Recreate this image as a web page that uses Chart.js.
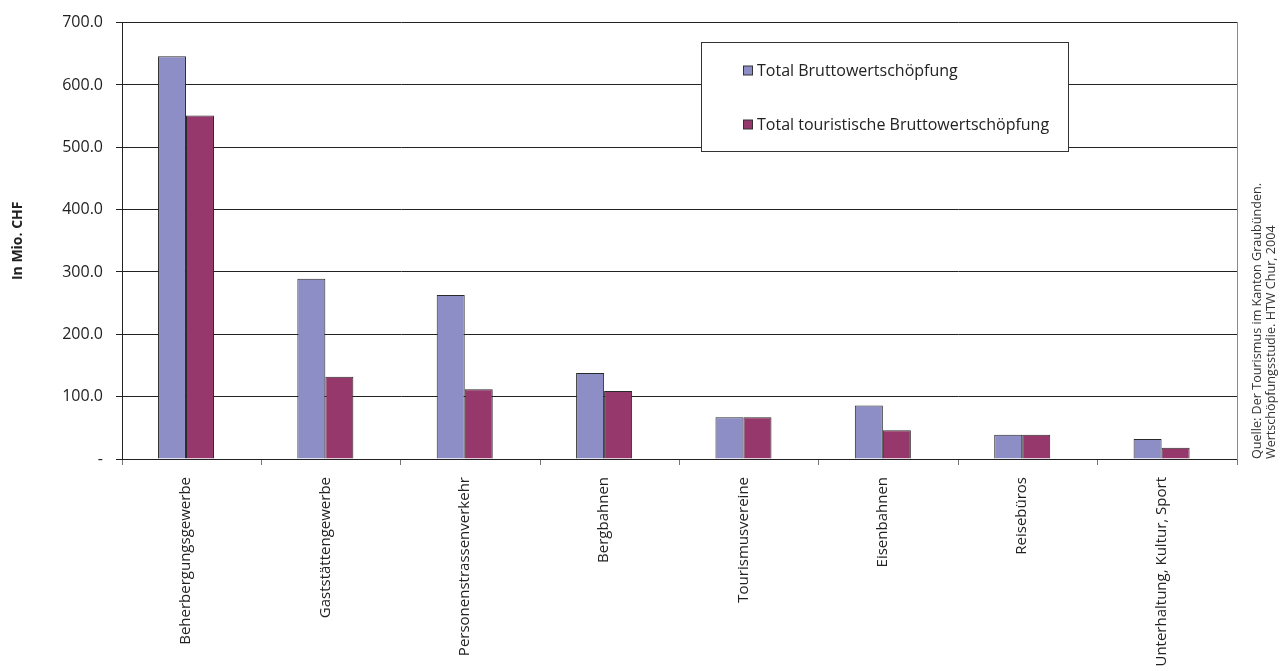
<!DOCTYPE html>
<html>
<head>
<meta charset="utf-8">
<title>Bruttowertschöpfung nach Branchen</title>
<script src="https://cdn.jsdelivr.net/npm/chart.js@4.4.1/dist/chart.umd.min.js"></script>
<style>
  html, body { margin: 0; padding: 0; background: #ffffff; }
  #wrap { width: 1281px; height: 671px; position: relative; }
</style>
</head>
<body>
<div id="wrap"><canvas id="chart" width="1281" height="671"></canvas></div>
<script>
// Branchen (categories) and the two value series, in Mio. CHF
const categories = [
  'Beherbergungsgewerbe',
  'Gaststättengewerbe',
  'Personenstrassenverkehr',
  'Bergbahnen',
  'Tourismusvereine',
  'Eisenbahnen',
  'Reisebüros',
  'Unterhaltung, Kultur, Sport'
];
const totalBWS     = [646, 289, 263, 138, 67, 86, 39, 32];
const touristBWS   = [551, 132, 112, 109, 67, 46, 39, 18];
const seriesNames  = ['Total Bruttowertschöpfung', 'Total touristische Bruttowertschöpfung'];
const yTickValues  = [0, 100, 200, 300, 400, 500, 600, 700];
const yAxisTitle   = 'In Mio. CHF';
const sourceLines  = ['Quelle: Der Tourismus im Kanton Graubünden.', 'Wertschöpfungsstudie. HTW Chur, 2004'];

const FONT = '"Open Sans", "DejaVu Sans", sans-serif';
const TEXT = '#222222';
const BLUE = '#8E8EC6';
const PLUM = '#96386B';

// bars sit slightly left of the centre of each category slot
const SHIFT = 0.041;
const xMin = -0.5 + SHIFT;
const xMax = categories.length - 0.5 + SHIFT;

const toPoints = arr => arr.map((v, i) => ({ x: i, y: v }));

// boxed legend inside the plot area
const boxedLegend = {
  id: 'boxedLegend',
  afterDraw(chart) {
    const ctx = chart.ctx;
    ctx.save();
    ctx.fillStyle = '#ffffff';
    ctx.fillRect(701.5, 42.5, 367, 109);
    ctx.strokeStyle = '#333333';
    ctx.lineWidth = 1;
    ctx.strokeRect(701.5, 42.5, 367, 109);
    chart.data.datasets.forEach((ds, i) => {
      const cy = 70.5 + i * 54;
      ctx.fillStyle = ds.backgroundColor;
      ctx.fillRect(743.5, cy - 4.5, 9, 9);
      ctx.strokeStyle = '#333333';
      ctx.strokeRect(743.5, cy - 4.5, 9, 9);
      ctx.fillStyle = TEXT;
      ctx.font = '16px ' + FONT;
      ctx.textAlign = 'left';
      ctx.textBaseline = 'middle';
      ctx.fillText(ds.label, 757, cy + 1);
    });
    ctx.restore();
  }
};

// rotated source note at the right edge
const sourceNote = {
  id: 'sourceNote',
  afterDraw(chart) {
    const ctx = chart.ctx;
    ctx.save();
    ctx.fillStyle = '#333333';
    ctx.font = '12.6px ' + FONT;
    ctx.textAlign = 'left';
    ctx.textBaseline = 'middle';
    sourceLines.forEach((line, i) => {
      ctx.save();
      ctx.translate(1257 + i * 14, chart.chartArea.bottom);
      ctx.rotate(-Math.PI / 2);
      ctx.fillText(line, 0, 0);
      ctx.restore();
    });
    ctx.restore();
  }
};

new Chart(document.getElementById('chart'), {
  type: 'bar',
  data: {
    datasets: [
      {
        label: seriesNames[0],
        data: toPoints(totalBWS),
        backgroundColor: BLUE,
        borderColor: '#2a2a2a',
        borderWidth: 1,
        categoryPercentage: 0.402,
        barPercentage: 1.0,
        xAxisID: 'x',
        yAxisID: 'y'
      },
      {
        label: seriesNames[1],
        data: toPoints(touristBWS),
        backgroundColor: PLUM,
        borderColor: '#2a2a2a',
        borderWidth: 1,
        categoryPercentage: 0.402,
        barPercentage: 1.0,
        xAxisID: 'x',
        yAxisID: 'y'
      }
    ]
  },
  options: {
    responsive: false,
    animation: false,
    devicePixelRatio: 1,
    layout: { padding: { left: 0, right: 44, top: 19, bottom: 0 } },
    plugins: {
      legend: { display: false },
      tooltip: { enabled: false },
      title: { display: false }
    },
    scales: {
      // tick marks at category boundaries
      xb: {
        type: 'linear',
        position: 'bottom',
        weight: 0,
        min: xMin,
        max: xMax,
        bounds: 'data',
        offset: false,
        afterBuildTicks: s => { s.ticks = categories.concat(['']).map((_, i) => ({ value: xMin + i })); },
        ticks: { display: false },
        grid: { offset: false, drawOnChartArea: false, drawTicks: true, tickLength: 6, color: '#777777', lineWidth: 1 },
        border: { display: true, color: '#222222', width: 1 }
      },
      // category labels under each bar group
      x: {
        type: 'linear',
        position: 'bottom',
        weight: 1,
        min: xMin,
        max: xMax,
        bounds: 'data',
        offset: false,
        afterBuildTicks: s => { s.ticks = categories.map((_, i) => ({ value: i })); },
        afterFit: s => { s.height = 206; },
        ticks: {
          autoSkip: false,
          minRotation: 90,
          maxRotation: 90,
          padding: 4,
          color: TEXT,
          font: { family: FONT, size: 15 },
          callback: v => categories[Math.round(v)] ?? ''
        },
        grid: { display: false, offset: false },
        border: { display: false }
      },
      y: {
        type: 'linear',
        position: 'left',
        min: 0,
        max: 700,
        afterBuildTicks: s => { s.ticks = yTickValues.map(v => ({ value: v })); },
        afterFit: s => { s.width = 122; },
        ticks: {
          padding: 13,
          color: TEXT,
          font: { family: FONT, size: 16 },
          callback: v => (v === 0 ? '-' : v.toFixed(1))
        },
        grid: { color: '#222222', lineWidth: 1, drawTicks: true, tickLength: 6 },
        border: { display: true, color: '#222222', width: 1 },
        title: {
          display: true,
          text: yAxisTitle,
          color: TEXT,
          font: { family: FONT, size: 14, weight: 'bold' },
          padding: { top: 10, bottom: 0 }
        }
      },
      // plain right-hand frame line
      yr: {
        type: 'linear',
        position: 'right',
        min: 0,
        max: 700,
        ticks: { display: false },
        grid: { display: false, drawTicks: false },
        border: { display: true, color: '#8a8a8a', width: 1 }
      }
    }
  },
  plugins: [boxedLegend, sourceNote]
});
</script>
</body>
</html>
